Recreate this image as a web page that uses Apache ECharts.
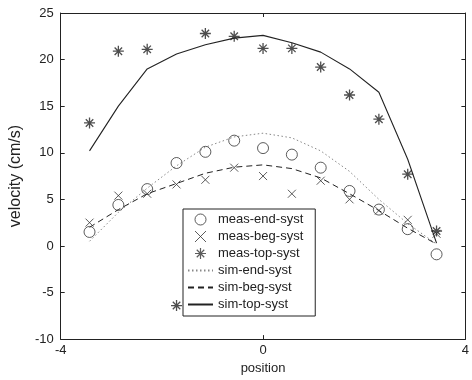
<!DOCTYPE html>
<html>
<head>
<meta charset="utf-8">
<script src="https://cdn.jsdelivr.net/npm/echarts@6/dist/echarts.min.js"></script>
<style>html,body{margin:0;padding:0;background:#fff;}#c{width:472px;height:380px;}</style>
</head>
<body>
<div id="c"></div>
<script>
var positions = [-3.43,-2.86,-2.29,-1.71,-1.14,-0.57,0,0.57,1.14,1.71,2.29,2.86,3.43];
var measEnd = [1.5,4.4,6.1,8.9,10.1,11.3,10.5,9.8,8.4,5.9,3.9,1.8,-0.9];
var measBeg = [2.5,5.4,5.6,6.6,7.1,8.4,7.5,5.6,7.0,5.0,3.8,2.8,1.3];
var measTop = [13.2,20.9,21.1,-6.4,22.8,22.5,21.2,21.2,19.2,16.2,13.6,7.7,1.6];
var simEnd = [0.5,3.6,6.2,8.6,10.6,11.7,12.1,11.6,10.2,8.0,5.0,2.4,0.2];
var simBeg = [2.0,3.9,5.6,6.7,7.8,8.45,8.7,8.3,7.3,5.6,3.8,1.9,0.2];
var simTop = [10.2,15.0,19.0,20.6,21.6,22.3,22.6,21.8,20.8,19.0,16.5,9.3,0.3];
var seriesNames = ['meas-end-syst','meas-beg-syst','meas-top-syst','sim-end-syst','sim-beg-syst','sim-top-syst'];

function pairs(ys){ return positions.map(function(x,i){ return [x, ys[i]]; }); }

var FONT = 'Liberation Sans, Arial, sans-serif';
var INK = '#222';
var starPath = 'path://M0,5L10,5M5,0L5,10M1.6,1.6L8.4,8.4M8.4,1.6L1.6,8.4';
var xPath = 'path://M0,0L10,10M10,0L0,10';
var legendIcons = ['circle', xPath, starPath, null, null, null];
var legendStroke = [1, 1, 1.2];

var chart = echarts.init(document.getElementById('c'), null, {renderer:'canvas'});
var axisCommon = {
  type:'value',
  axisLine:{show:true, onZero:false, lineStyle:{color:INK, width:1}},
  axisTick:{show:true, inside:true, length:4, lineStyle:{color:INK}},
  splitLine:{show:false},
  axisLabel:{color:INK, fontSize:13, fontFamily:FONT}
};
chart.setOption({
  animation:false,
  backgroundColor:'#fff',
  grid:{left:53, right:1, top:13, bottom:35, show:false},
  xAxis:[
    Object.assign({}, axisCommon, {min:-4, max:4, interval:4, position:'bottom',
      name:'position', nameLocation:'middle', nameGap:20,
      nameTextStyle:{color:INK, fontSize:13, fontFamily:FONT},
      axisLabel:{color:INK, fontSize:13, fontFamily:FONT, margin:5}}),
    Object.assign({}, axisCommon, {min:-4, max:4, interval:4, position:'top',
      axisLabel:{show:false}})
  ],
  yAxis:[
    Object.assign({}, axisCommon, {min:-10, max:25, interval:5, position:'left',
      name:'velocity (cm/s)', nameLocation:'middle', nameGap:29,
      nameTextStyle:{color:INK, fontSize:16, fontFamily:FONT},
      axisLabel:{color:INK, fontSize:13, fontFamily:FONT, margin:7}}),
    Object.assign({}, axisCommon, {min:-10, max:25, interval:5, position:'right',
      axisLabel:{show:false}})
  ],
  legend:{
    orient:'vertical', left:183, top:209,
    padding:[4,12,5,4],
    itemWidth:25, itemHeight:11, itemGap:4,
    backgroundColor:'#fff', borderColor:INK, borderWidth:1,
    textStyle:{color:INK, fontSize:13, fontFamily:FONT, lineHeight:11},
    data:seriesNames.map(function(n, i){
      if (legendIcons[i]) return {name:n, icon:legendIcons[i],
        itemStyle:{color:'rgba(0,0,0,0)', borderColor:'#333', borderWidth:legendStroke[i]}};
      return {name:n, itemStyle:{color:'rgba(0,0,0,0)', borderColor:'rgba(0,0,0,0)', borderWidth:0, opacity:0}};
    })
  },
  series:[
    {name:seriesNames[0], type:'scatter', data:pairs(measEnd), symbol:'circle', symbolSize:11,
      itemStyle:{color:'rgba(0,0,0,0)', borderColor:'#333', borderWidth:1}, z:5},
    {name:seriesNames[1], type:'scatter', data:pairs(measBeg), symbol:xPath, symbolSize:8,
      itemStyle:{color:'rgba(0,0,0,0)', borderColor:'#333', borderWidth:1}, z:5},
    {name:seriesNames[2], type:'scatter', data:pairs(measTop), symbol:starPath, symbolSize:11,
      itemStyle:{color:'rgba(0,0,0,0)', borderColor:'#222', borderWidth:1.3}, z:5},
    {name:seriesNames[3], type:'line', data:pairs(simEnd), symbol:'none',
      lineStyle:{color:'#888', width:1, type:[1.5,2.5]}, itemStyle:{color:'#888'}},
    {name:seriesNames[4], type:'line', data:pairs(simBeg), symbol:'none',
      lineStyle:{color:'#222', width:1, type:[6,4]}, itemStyle:{color:'#222'}},
    {name:seriesNames[5], type:'line', data:pairs(simTop), symbol:'none',
      lineStyle:{color:'#222', width:1.1, type:'solid'}, itemStyle:{color:'#222'}}
  ]
});
</script>
</body>
</html>
